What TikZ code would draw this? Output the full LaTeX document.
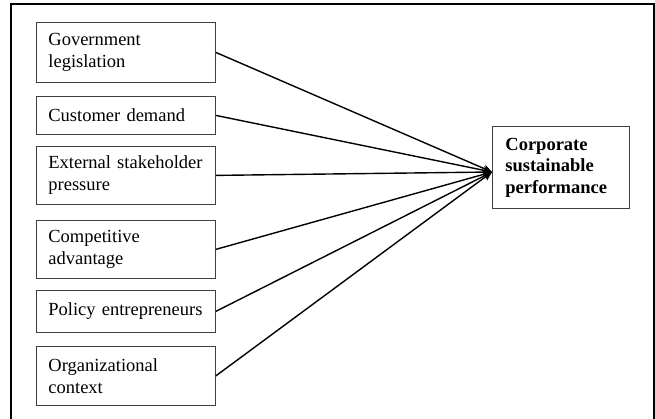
\documentclass[tikz,border=0pt]{standalone}
\usepackage{fontspec}
\setmainfont{Liberation Serif}
\usetikzlibrary{arrows.meta}
\begin{document}
\begin{tikzpicture}[x=1pt,y=-1pt,
  factor/.style={draw=black!75,line width=0.8pt,rectangle,anchor=north west,
    minimum width=179pt,text width=155pt,inner xsep=12pt,inner ysep=0pt,align=left,
    font=\fontsize{18.5}{22}\selectfont},
  outcome/.style={draw=black!75,line width=0.8pt,rectangle,anchor=north west,
    minimum width=137pt,minimum height=82pt,text width=111pt,inner xsep=13pt,align=left,
    font=\fontsize{18.5}{21.5}\selectfont\bfseries},
  link/.style={line width=1.4pt,-{Stealth[length=9pt,width=8pt]}}]
\useasboundingbox (0,0) rectangle (655,419);
\draw[line width=1.8pt] (11,425) -- (11,4) -- (654,4) -- (654,425);
\node[factor,minimum height=60pt] (g) at (36,22) {Government\\legislation};
\node[factor,minimum height=38pt] (c) at (36,96) {Customer demand};
\node[factor,minimum height=58pt] (e) at (36,146) {External stakeholder\\pressure};
\node[factor,minimum height=58pt] (k) at (36,220) {Competitive\\advantage};
\node[factor,minimum height=42pt] (p) at (36,290) {Policy entrepreneurs};
\node[factor,minimum height=59pt] (o) at (36,346) {Organizational\\context};
\node[outcome] (csp) at (492,126) {Corporate\\sustainable\\performance};
\coordinate (t) at (492,172);
\foreach \n in {g,c,e,k,p,o} \draw[link] (\n.east) -- (t);
\end{tikzpicture}
\end{document}
